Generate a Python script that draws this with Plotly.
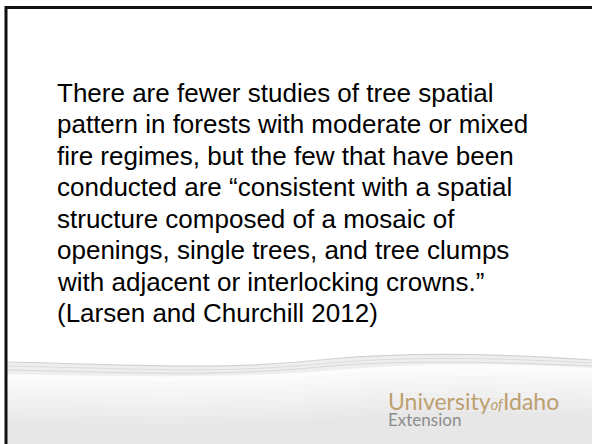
import plotly.graph_objects as go

W, H = 592, 444

# Slide content
body_lines = [
    "There are fewer studies of tree spatial",
    "pattern in forests with moderate or mixed",
    "fire regimes, but the few that have been",
    "conducted are \u201cconsistent with a spatial",
    "structure composed of a mosaic of",
    "openings, single trees, and tree clumps",
    "with adjacent or interlocking crowns.\u201d",
    "(Larsen and Churchill 2012)",
]
logo_main = ["University", "of", "Idaho"]
logo_sub = "Extension"

fig = go.Figure()

# invisible trace to establish axes
fig.add_trace(go.Scatter(x=[0, W], y=[0, H], mode="markers",
                         marker=dict(opacity=0), hoverinfo="skip", showlegend=False))

shapes = []

# soft gradient below swoosh
for k in range(8):
    off = k * 7
    shapes.append(dict(
        type="path", layer="below",
        path=(f"M 7 {372+off} C 150 {375+off}, 240 {376+off}, 350 {367+off} "
              f"C 440 {360+off}, 520 {362+off}, 592 {366+off} L 592 444 L 7 444 Z"),
        fillcolor="rgba(0,0,0,0.010)", line=dict(width=0)))

# swoosh band
shapes.append(dict(
    type="path", layer="below",
    path=("M 7 362 C 150 365, 220 371, 330 359 C 420 351, 520 355, 592 360 "
          "L 592 368 C 520 364, 440 362, 350 369 C 240 378, 150 377, 7 374 Z"),
    fillcolor="#eeeeee", line=dict(width=0)))
for (a, b, c, d, e, f, col, wd) in [
    (362, 365, 371, 359, 351, 360, "#d2d2d2", 1.2),
    (366, 369, 374, 363, 355, 363, "#dddddd", 1.0),
    (370, 373, 377, 366, 359, 366, "#d8d8d8", 1.0),
]:
    shapes.append(dict(
        type="path", layer="below",
        path=(f"M 7 {a} C 150 {b}, 220 {c}, 330 {d} C 420 {e}, 520 {e+4}, 592 {f}"),
        line=dict(color=col, width=wd)))

# border (top and left)
shapes.append(dict(type="line", x0=5, x1=W, y0=7.5, y1=7.5,
                   line=dict(color="#111111", width=3)))
shapes.append(dict(type="line", x0=6, x1=6, y0=6, y1=H,
                   line=dict(color="#111111", width=3)))

annotations = []
x0_text = 55
y_first = 92.5
spacing = 31.5
for i, line in enumerate(body_lines):
    annotations.append(dict(
        x=x0_text, y=y_first + i * spacing, xref="x", yref="y",
        text=line, showarrow=False, xanchor="left", yanchor="middle",
        font=dict(family="Liberation Sans, Arial, sans-serif", size=26, color="#000000")))

gold = "#bd9f70"
grey = "#8c8c8c"
logo_text = (
    f"<span style='font-size:23px;color:{gold}'>{logo_main[0]}</span>"
    f"<span style='font-size:15px;color:{gold};font-style:italic'>{logo_main[1]}</span>"
    f"<span style='font-size:23px;color:{gold}'>{logo_main[2]}</span>"
    f"<br><span style='font-size:17px;color:{grey}'>{logo_sub}</span>"
)
annotations.append(dict(
    x=386, y=408, xref="x", yref="y", showarrow=False,
    xanchor="left", yanchor="middle", align="left", text=logo_text,
    font=dict(family="Lato, Open Sans, sans-serif", size=12, color=gold)))

fig.update_layout(
    width=W, height=H, margin=dict(l=0, r=0, t=0, b=0),
    paper_bgcolor="white", plot_bgcolor="white",
    xaxis=dict(range=[0, W], visible=False, fixedrange=True),
    yaxis=dict(range=[H, 0], visible=False, fixedrange=True),
    shapes=shapes, annotations=annotations, showlegend=False,
)

fig.write_html("out.html", config={"displayModeBar": False},
               post_script="document.body.style.margin='0';document.body.style.overflow='hidden';")
